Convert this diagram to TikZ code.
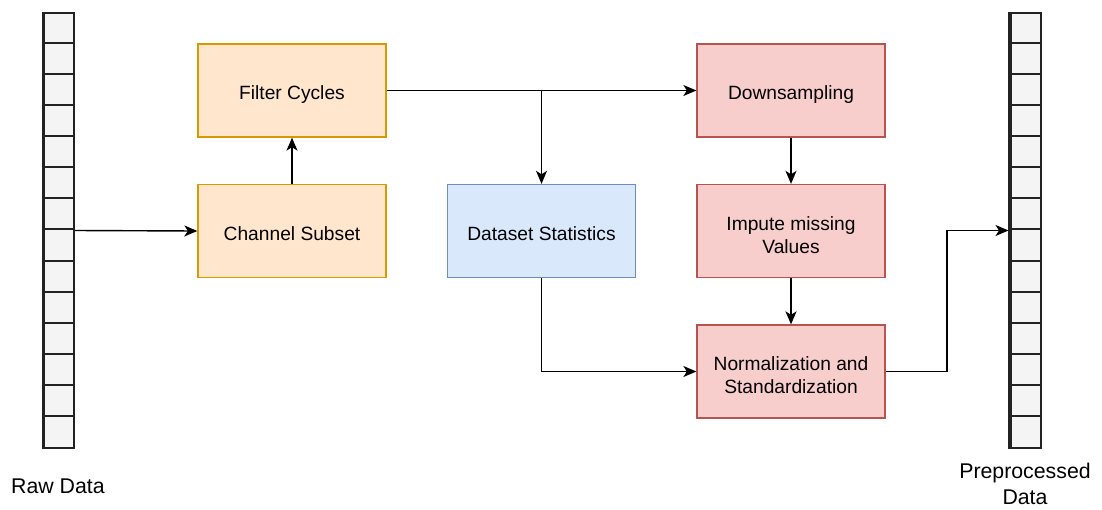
\documentclass[tikz,border=0pt]{standalone}
\usepackage{fontspec}
\setmainfont{Liberation Sans}
\usetikzlibrary{arrows.meta,calc}

\definecolor{orangefill}{HTML}{FFE6CC}
\definecolor{orangeline}{HTML}{D79B00}
\definecolor{bluefill}{HTML}{DAE8FC}
\definecolor{blueline}{HTML}{6C8EBF}
\definecolor{redfill}{HTML}{F8CECC}
\definecolor{redline}{HTML}{B85450}
\definecolor{cellfill}{HTML}{F4F4F4}
\definecolor{cellline}{HTML}{222222}

% two centred lines, first baseline as reference, with fixed declared extent
\newcommand\stacklines[2]{\raisebox{0pt}[28.2pt][29.9pt]{\begin{tabular}[t]{@{}c@{}}#1\\#2\end{tabular}}}

\tikzset{
  stage/.style={draw, line width=1.3pt, minimum width=188pt, minimum height=93pt,
    align=center, inner sep=0pt, font=\fontsize{19.2}{23}\selectfont,
    % fixed top and bottom struts keep every label at the same height in its box
    execute at begin node={\rule{0pt}{22.7pt}},
    execute at end node={\rule[-4pt]{0pt}{4pt}}},
  prep/.style={stage, fill=orangefill, draw=orangeline},
  stat/.style={stage, fill=bluefill, draw=blueline},
  proc/.style={stage, fill=redfill, draw=redline},
  datacol/.style={draw=cellline, fill=cellfill, line width=2pt, minimum width=31pt,
    minimum height=435pt, inner sep=0pt},
  conn/.style={line width=1.4pt, -{Stealth[length=13pt,width=11pt,inset=3.5pt]}},
  lbl/.style={align=center, inner sep=0pt, font=\fontsize{21.3}{26}\selectfont}
}

\begin{document}
\begin{tikzpicture}[x=1pt,y=-1pt]
  \useasboundingbox (0,0) rectangle (1102,509);

  % input and output data columns
  \foreach \nm/\cx in {raw/58.5, out/1025} {
    \node[datacol] (\nm) at (\cx,230.5) {};
    \foreach \k in {1,...,13}
      \draw[cellline, line width=2pt] ($(\nm.north west)+(0,\k*31.07)$) -- ($(\nm.north east)+(0,\k*31.07)$);
    \draw[cellline, line width=3.5pt] ($(\nm.north west)+(1.5,0)$) -- ($(\nm.south west)+(1.5,0)$);
  }

  % processing stages
  \node[prep] (filt) at (292,90.5) {Filter Cycles};
  \node[prep] (chan) at (292,231) {Channel Subset};
  \node[stat] (stats) at (541.5,231) {Dataset Statistics};
  \node[proc] (down) at (791,90.5) {Downsampling};
  \node[proc] (imp) at (791,231) {\stacklines{Impute missing}{Values}};
  \node[proc] (norm) at (791,371.5) {\stacklines{Normalization and}{Standardization}};

  % labels
  \node[lbl] (rawlbl) at (58,486) {Raw Data};
  \node[lbl] (outlbl) at (1025,484) {Preprocessed\\Data};

  % connectors
  \coordinate (split) at (stats.north |- filt.east);
  \coordinate (bend) at (947,371.5);
  \draw[conn] (raw.east) -- (chan.west);
  \draw[conn] (chan.north) -- (filt.south);
  \draw[conn] (filt.east) -- (down.west);
  \draw[conn] (split) -- (stats.north);
  \draw[conn] (stats.south) |- (norm.west);
  \draw[conn] (down.south) -- (imp.north);
  \draw[conn] (imp.south) -- (norm.north);
  \draw[conn] (norm.east) -- (bend) |- (out.west);
\end{tikzpicture}
\end{document}
